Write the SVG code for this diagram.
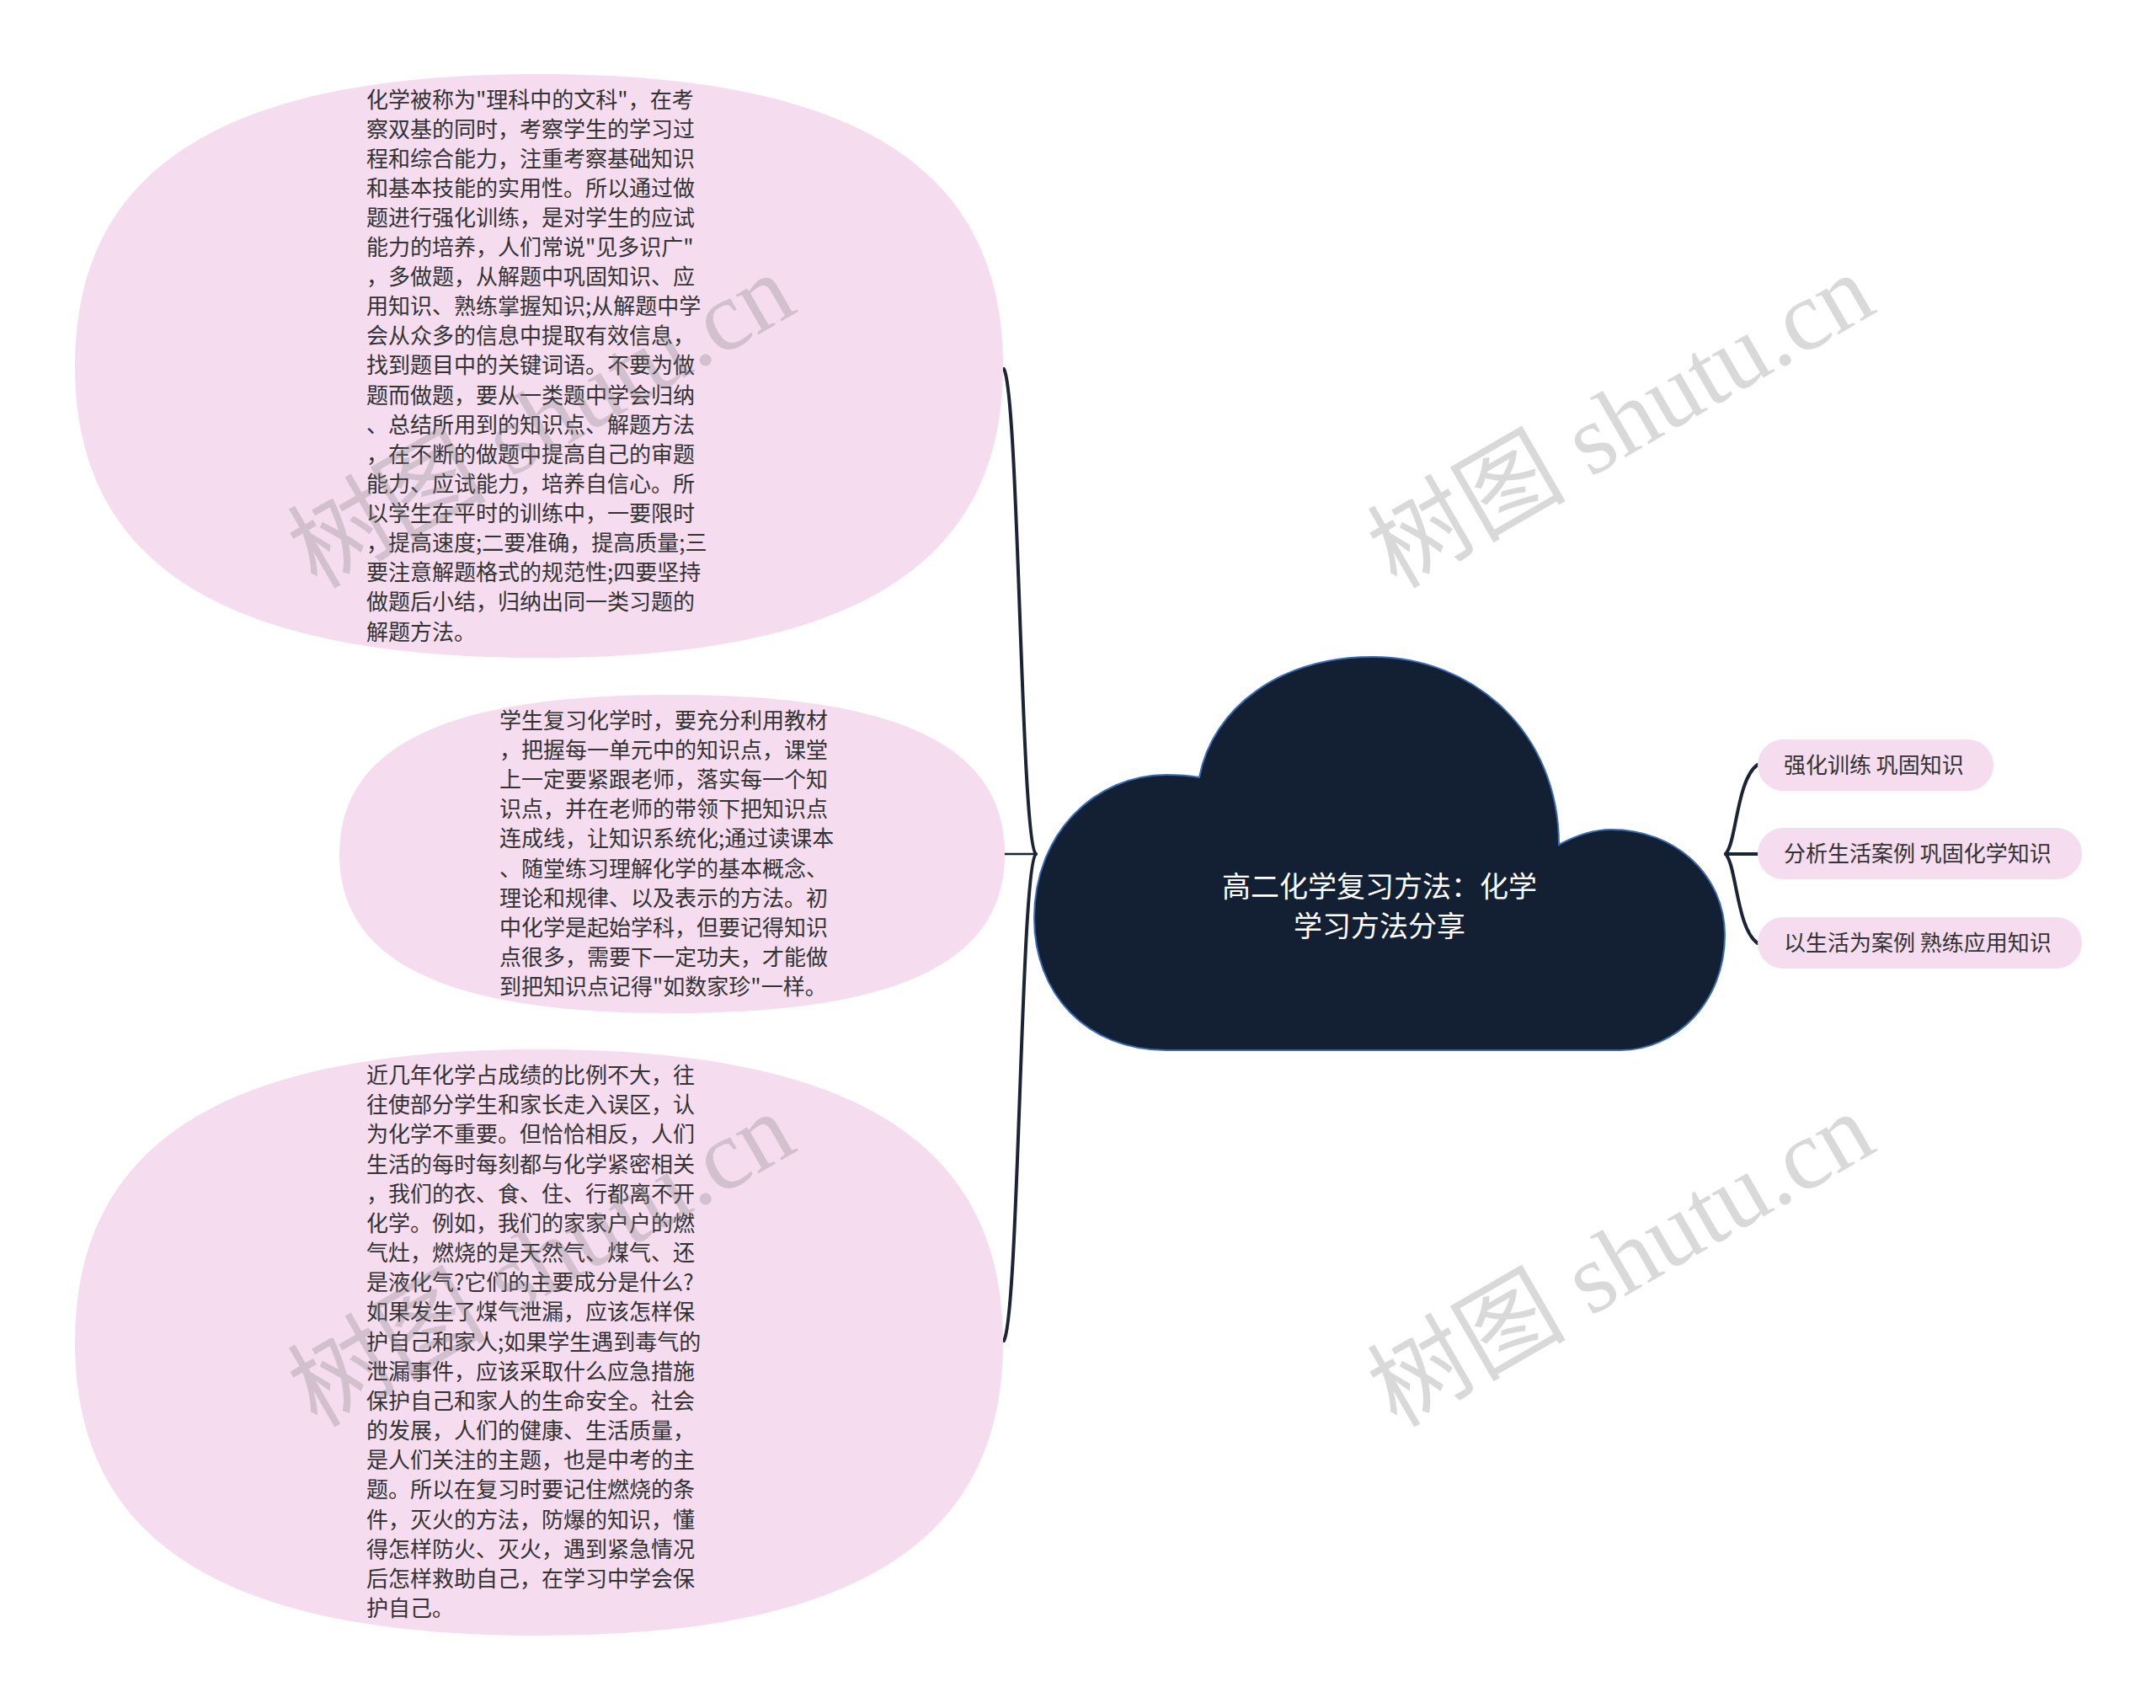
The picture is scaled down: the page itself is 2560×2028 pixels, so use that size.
<svg xmlns="http://www.w3.org/2000/svg" width="2560" height="2028" viewBox="0 0 2560 2028">
<style>
.bg{fill:#ffffff}
.leaf{fill:#f5dcef}
.t{font-family:"Noto Sans CJK SC","Noto Sans",sans-serif;font-size:26px;fill:#333333}
.ct{font-family:"Noto Sans CJK SC","Noto Sans",sans-serif;font-size:34px;fill:#ffffff}
.cl{fill:none;stroke:#1b2435;stroke-width:4;stroke-linecap:round}
.wm{font-family:"Liberation Serif","Noto Sans CJK SC",serif;font-size:118px;fill:#808080;fill-opacity:0.3}
</style>
<rect class="bg" x="0" y="0" width="2560" height="2028"/>
<g id="connectors">
<path class="cl" d="M1230,1014 C1212,1000 1210,470 1192,438"/>
<path class="cl" d="M1230,1014 C1212,1028 1210,1560 1192,1592"/>
<path class="cl" style="stroke-width:2.5" d="M1192,1014 L1230,1014"/>
<path class="cl" d="M2049,1014 C2062,1000 2062,925 2087,908"/>
<path class="cl" d="M2049,1014 L2087,1014"/>
<path class="cl" d="M2049,1014 C2062,1028 2062,1103 2087,1120"/>
</g>
<g id="center">
<path d="M1385,1247 C1290,1247 1228,1180 1228,1090 C1228,990 1300,920 1385,920 C1400,920 1413,921 1424,923 C1440,840 1520,780 1630,780 C1750,780 1851,870 1851,1003 C1875,990 1895,985 1913,985 C1990,985 2048,1040 2048,1110 C2048,1190 1990,1247 1924,1247 Z" fill="#132034" stroke="#3a6bb0" stroke-width="2"/>
<text class="ct" x="1638" y="1065" text-anchor="middle">高二化学复习方法：化学</text>
<text class="ct" x="1638" y="1112" text-anchor="middle">学习方法分享</text>
</g>
<g id="r1">
<rect class="leaf" x="2087" y="878" width="280" height="61" rx="30.5"/>
<text class="t" x="2118" y="918">强化训练 巩固知识</text>
</g>
<g id="r2">
<rect class="leaf" x="2087" y="983" width="385" height="61" rx="30.5"/>
<text class="t" x="2118" y="1023">分析生活案例 巩固化学知识</text>
</g>
<g id="r3">
<rect class="leaf" x="2087" y="1089" width="385" height="61" rx="30.5"/>
<text class="t" x="2118" y="1129">以生活为案例 熟练应用知识</text>
</g>
<g id="l1">
<path class="leaf" d="M1191,434.5 C1191,670.1 1014.7,781 640,781 C265.3,781 89,670.1 89,434.5 C89,198.9 265.3,88 640,88 C1014.7,88 1191,198.9 1191,434.5 Z"/>
<text class="t">
<tspan x="435" y="128">化学被称为"理科中的文科"，在考</tspan>
<tspan x="435" y="163">察双基的同时，考察学生的学习过</tspan>
<tspan x="435" y="198">程和综合能力，注重考察基础知识</tspan>
<tspan x="435" y="233">和基本技能的实用性。所以通过做</tspan>
<tspan x="435" y="268">题进行强化训练，是对学生的应试</tspan>
<tspan x="435" y="303">能力的培养，人们常说"见多识广"</tspan>
<tspan x="435" y="338">，多做题，从解题中巩固知识、应</tspan>
<tspan x="435" y="373">用知识、熟练掌握知识;从解题中学</tspan>
<tspan x="435" y="408">会从众多的信息中提取有效信息，</tspan>
<tspan x="435" y="443">找到题目中的关键词语。不要为做</tspan>
<tspan x="435" y="479">题而做题，要从一类题中学会归纳</tspan>
<tspan x="435" y="514">、总结所用到的知识点、解题方法</tspan>
<tspan x="435" y="549">，在不断的做题中提高自己的审题</tspan>
<tspan x="435" y="584">能力、应试能力，培养自信心。所</tspan>
<tspan x="435" y="619">以学生在平时的训练中，一要限时</tspan>
<tspan x="435" y="654">，提高速度;二要准确，提高质量;三</tspan>
<tspan x="435" y="689">要注意解题格式的规范性;四要坚持</tspan>
<tspan x="435" y="724">做题后小结，归纳出同一类习题的</tspan>
<tspan x="435" y="760">解题方法。</tspan>
</text>
</g>
<g id="l2">
<path class="leaf" d="M1193,1014 C1193,1142.5 1066.6,1203 798,1203 C529.4,1203 403,1142.5 403,1014 C403,885.5 529.4,825 798,825 C1066.6,825 1193,885.5 1193,1014 Z"/>
<text class="t">
<tspan x="593" y="865">学生复习化学时，要充分利用教材</tspan>
<tspan x="593" y="900">，把握每一单元中的知识点，课堂</tspan>
<tspan x="593" y="935">上一定要紧跟老师，落实每一个知</tspan>
<tspan x="593" y="970">识点，并在老师的带领下把知识点</tspan>
<tspan x="593" y="1005">连成线，让知识系统化;通过读课本</tspan>
<tspan x="593" y="1041">、随堂练习理解化学的基本概念、</tspan>
<tspan x="593" y="1076">理论和规律、以及表示的方法。初</tspan>
<tspan x="593" y="1111">中化学是起始学科，但要记得知识</tspan>
<tspan x="593" y="1146">点很多，需要下一定功夫，才能做</tspan>
<tspan x="593" y="1181">到把知识点记得"如数家珍"一样。</tspan>
</text>
</g>
<g id="l3">
<path class="leaf" d="M1191,1594 C1191,1830.6 1014.7,1942 640,1942 C265.3,1942 89,1830.6 89,1594 C89,1357.4 265.3,1246 640,1246 C1014.7,1246 1191,1357.4 1191,1594 Z"/>
<text class="t">
<tspan x="435" y="1286">近几年化学占成绩的比例不大，往</tspan>
<tspan x="435" y="1321">往使部分学生和家长走入误区，认</tspan>
<tspan x="435" y="1356">为化学不重要。但恰恰相反，人们</tspan>
<tspan x="435" y="1392">生活的每时每刻都与化学紧密相关</tspan>
<tspan x="435" y="1427">，我们的衣、食、住、行都离不开</tspan>
<tspan x="435" y="1462">化学。例如，我们的家家户户的燃</tspan>
<tspan x="435" y="1497">气灶，燃烧的是天然气、煤气、还</tspan>
<tspan x="435" y="1532">是液化气?它们的主要成分是什么?</tspan>
<tspan x="435" y="1567">如果发生了煤气泄漏，应该怎样保</tspan>
<tspan x="435" y="1603">护自己和家人;如果学生遇到毒气的</tspan>
<tspan x="435" y="1638">泄漏事件，应该采取什么应急措施</tspan>
<tspan x="435" y="1673">保护自己和家人的生命安全。社会</tspan>
<tspan x="435" y="1708">的发展，人们的健康、生活质量，</tspan>
<tspan x="435" y="1743">是人们关注的主题，也是中考的主</tspan>
<tspan x="435" y="1778">题。所以在复习时要记住燃烧的条</tspan>
<tspan x="435" y="1814">件，灭火的方法，防爆的知识，懂</tspan>
<tspan x="435" y="1849">得怎样防火、灭火，遇到紧急情况</tspan>
<tspan x="435" y="1884">后怎样救助自己，在学习中学会保</tspan>
<tspan x="435" y="1919">护自己。</tspan>
</text>
</g>
<g id="watermarks">
<text class="wm" transform="translate(376,700) rotate(-30)">树图 shutu.cn</text>
<text class="wm" transform="translate(1658,700) rotate(-30)">树图 shutu.cn</text>
<text class="wm" transform="translate(376,1696) rotate(-30)">树图 shutu.cn</text>
<text class="wm" transform="translate(1658,1696) rotate(-30)">树图 shutu.cn</text>
</g>
</svg>
